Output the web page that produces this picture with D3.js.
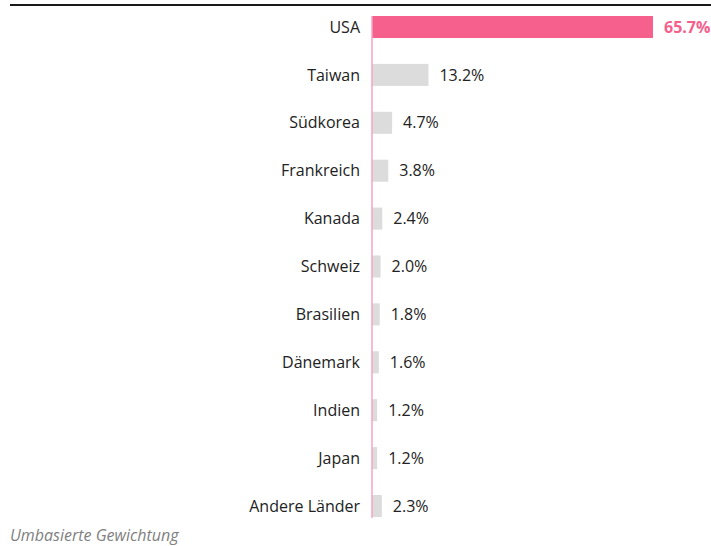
<!DOCTYPE html>
<html>
<head>
<meta charset="utf-8">
<script src="https://cdn.jsdelivr.net/npm/d3@7"></script>
<style>
  body { margin: 0; background: #fff; }
  text { font-family: "Open Sans", sans-serif; }
</style>
</head>
<body>
<script>
// Chart data.
var countries = ["USA", "Taiwan", "Südkorea", "Frankreich", "Kanada", "Schweiz",
                 "Brasilien", "Dänemark", "Indien", "Japan", "Andere Länder"];
var shares = [65.7, 13.2, 4.7, 3.8, 2.4, 2.0, 1.8, 1.6, 1.2, 1.2, 2.3];
var highlight = "USA";
var footnote = "Umbasierte Gewichtung";

var width = 711;
var height = 546;

var svg = d3.select("body").append("svg")
            .attr("width", width)
            .attr("height", height);

// Scales.
var xScale = d3.scaleLinear()
               .domain([0, 65.7])
               .range([372, 653]);

var yScale = d3.scaleBand()
               .domain(countries)
               .range([16, 517])
               .paddingInner(0.54)
               .paddingOuter(0);

// Top rule.
svg.append("line")
   .attr("x1", 10).attr("x2", 711)
   .attr("y1", 5).attr("y2", 5)
   .attr("stroke", "#1a1a1a")
   .attr("stroke-width", 2);

var data = countries.map(function (c, i) { return { country: c, share: shares[i] }; });

// Bars.
svg.selectAll(".bar")
   .data(data)
   .enter().append("rect")
   .attr("class", "bar")
   .attr("x", xScale(0))
   .attr("y", d => yScale(d.country))
   .attr("width", d => xScale(d.share) - xScale(0))
   .attr("height", yScale.bandwidth())
   .attr("fill", d => d.country === highlight ? "#f5608c" : "#dcdcdc");

// Axis line.
svg.append("line")
   .attr("x1", xScale(0)).attr("x2", xScale(0))
   .attr("y1", yScale(countries[0]))
   .attr("y2", yScale(countries[countries.length - 1]) + yScale.bandwidth() + 1)
   .attr("stroke", "#f6a5c2")
   .attr("stroke-width", 1.5);

// Category labels.
svg.selectAll(".label")
   .data(data)
   .enter().append("text")
   .attr("class", "label")
   .attr("x", 360)
   .attr("y", d => yScale(d.country) + yScale.bandwidth() / 2)
   .attr("dy", "0.35em")
   .attr("text-anchor", "end")
   .attr("font-size", 16)
   .attr("fill", "#222")
   .text(d => d.country);

// Value labels.
svg.selectAll(".value")
   .data(data)
   .enter().append("text")
   .attr("class", "value")
   .attr("x", d => xScale(d.share) + 11)
   .attr("y", d => yScale(d.country) + yScale.bandwidth() / 2)
   .attr("dy", "0.35em")
   .attr("font-size", 16)
   .attr("font-weight", d => d.country === highlight ? 700 : 400)
   .attr("fill", d => d.country === highlight ? "#f5608c" : "#222")
   .text(d => d.share.toFixed(1) + "%");

// Footnote.
svg.append("text")
   .attr("x", 10)
   .attr("y", 541)
   .attr("font-size", 16)
   .attr("font-style", "italic")
   .attr("fill", "#808080")
   .text(footnote);
</script>
</body>
</html>
